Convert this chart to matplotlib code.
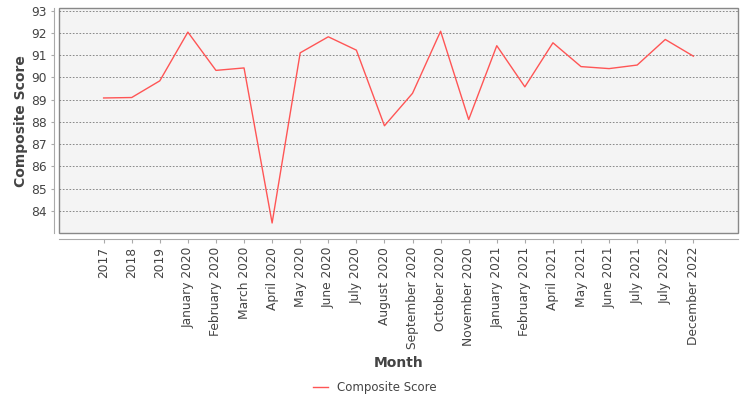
import matplotlib
matplotlib.use("Agg")
import matplotlib.pyplot as plt

months = ["2017", "2018", "2019", "January 2020", "February 2020", "March 2020",
          "April 2020", "May 2020", "June 2020", "July 2020", "August 2020",
          "September 2020", "October 2020", "November 2020", "January 2021",
          "February 2021", "April 2021", "May 2021", "June 2021", "July 2021",
          "July 2022", "December 2022"]
scores = [89.07, 89.09, 89.84, 92.03, 90.31, 90.42, 83.45, 91.10, 91.82, 91.22,
          87.82, 89.28, 92.07, 88.10, 91.42, 89.57, 91.55, 90.48, 90.39, 90.55,
          91.70, 90.95]
y_ticks = [84, 85, 86, 87, 88, 89, 90, 91, 92, 93]

txt = "#444444"
fig = plt.figure(figsize=(7.5, 4), dpi=100)
ax = fig.add_axes([0.079, 0.4175, 0.905, 0.5617])
ax.set_facecolor("#f4f4f4")
ax.patch.set_edgecolor("#888888")
ax.patch.set_linewidth(1.0)

x = list(range(len(months)))
ax.plot(x, scores, color="#ff5555", linewidth=1.0, label="Composite Score")

ax.set_xlim(-1.58, len(months) - 1 + 1.59)
ax.set_ylim(83.0, 93.1)
ax.set_yticks(y_ticks)
ax.set_xticks(x)
ax.set_xticklabels(months)
ax.tick_params(axis="y", labelsize=8.8, labelcolor=txt, length=2, pad=3,
               color="#aaaaaa")
ax.tick_params(axis="x", labelsize=8.8, labelcolor=txt, length=3, pad=3,
               color="#aaaaaa", labelrotation=90)
ax.grid(axis="y", linestyle=(0, (2, 2)), color="#777777", linewidth=0.6)

for s in ["top", "right"]:
    ax.spines[s].set_visible(False)
for s in ["left", "bottom"]:
    ax.spines[s].set_position(("outward", 4))
    ax.spines[s].set_color("#aaaaaa")
    ax.spines[s].set_linewidth(0.8)

ax.set_ylabel("Composite Score", fontsize=10, fontweight="bold", color=txt, labelpad=2)
ax.set_xlabel("Month", fontsize=10, fontweight="bold", color=txt, labelpad=5)

fig.legend(loc="center", bbox_to_anchor=(0.5, 0.032), frameon=False,
           fontsize=8.5, handlelength=1.2, labelcolor=txt)

fig.savefig("out.png", dpi=100)
